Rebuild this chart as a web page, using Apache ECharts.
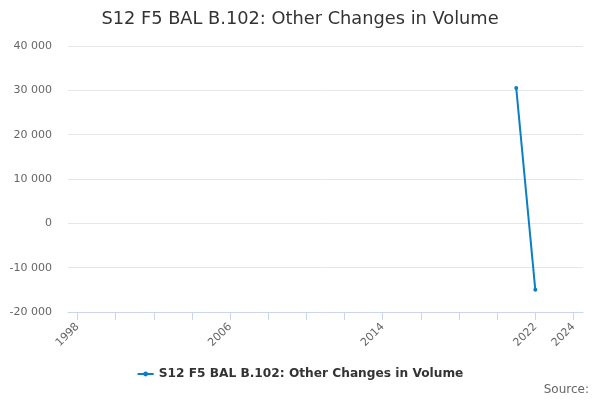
<!DOCTYPE html>
<html>
<head>
<meta charset="utf-8">
<script src="https://cdn.jsdelivr.net/npm/echarts@6/dist/echarts.min.js"></script>
<style>
  html, body { margin: 0; padding: 0; background: #fff; }
  #chart { width: 600px; height: 400px; }
</style>
</head>
<body>
<div id="chart"></div>
<script>
const seriesName = "S12 F5 BAL B.102: Other Changes in Volume";
const years = [];
for (let y = 1998; y <= 2024; y++) years.push(String(y));
// only two observations exist: 2021 and 2022
const obsYears = ["2021", "2022"];
const obsValues = [30500, -15000];
const shownLabels = ["1998", "2006", "2014", "2022", "2024"];

const values = years.map((y) => {
  const i = obsYears.indexOf(y);
  return i >= 0 ? obsValues[i] : null;
});

const font = "DejaVu Sans";
const chart = echarts.init(document.getElementById("chart"));

chart.setOption({
  animation: false,
  textStyle: { fontFamily: font },
  title: {
    text: seriesName,
    left: "center",
    top: 5,
    textStyle: { fontFamily: font, fontSize: 17.8, fontWeight: "normal", color: "#333" },
  },
  grid: { left: 68, right: 17, top: 46, bottom: 88 },
  legend: {
    top: 363,
    left: "center",
    itemWidth: 16,
    itemHeight: 6,
    itemGap: 6,
    textStyle: { fontFamily: font, fontSize: 12.2, fontWeight: "bold", color: "#333" },
    data: [seriesName],
  },
  xAxis: {
    type: "category",
    data: years,
    boundaryGap: true,
    axisLine: { onZero: false, lineStyle: { color: "#ccd6eb" } },
    axisTick: {
      show: true,
      alignWithLabel: true,
      length: 8,
      interval: 1,
      lineStyle: { color: "#ccd6eb" },
    },
    axisLabel: {
      rotate: 45,
      margin: 13,
      color: "#666",
      fontSize: 11,
      fontFamily: font,
      interval: (i, v) => shownLabels.indexOf(v) >= 0,
    },
  },
  yAxis: {
    type: "value",
    min: -20000,
    max: 40000,
    interval: 10000,
    axisLine: { show: false },
    axisTick: { show: false },
    splitLine: { lineStyle: { color: "#e6e6e6" } },
    axisLabel: {
      color: "#666",
      fontSize: 11,
      fontFamily: font,
      margin: 16,
      formatter: (v) => String(v).replace(/\B(?=(\d{3})+(?!\d))/g, " "),
    },
  },
  series: [
    {
      name: seriesName,
      type: "line",
      data: values,
      connectNulls: false,
      symbol: "circle",
      symbolSize: 4,
      lineStyle: { width: 2, color: "#0b7fc3" },
      itemStyle: { color: "#0b7fc3" },
    },
  ],
  graphic: [
    {
      type: "text",
      right: 11,
      bottom: 4,
      style: { text: "Source:", fill: "#666", fontSize: 12, fontFamily: font },
    },
  ],
});
</script>
</body>
</html>
